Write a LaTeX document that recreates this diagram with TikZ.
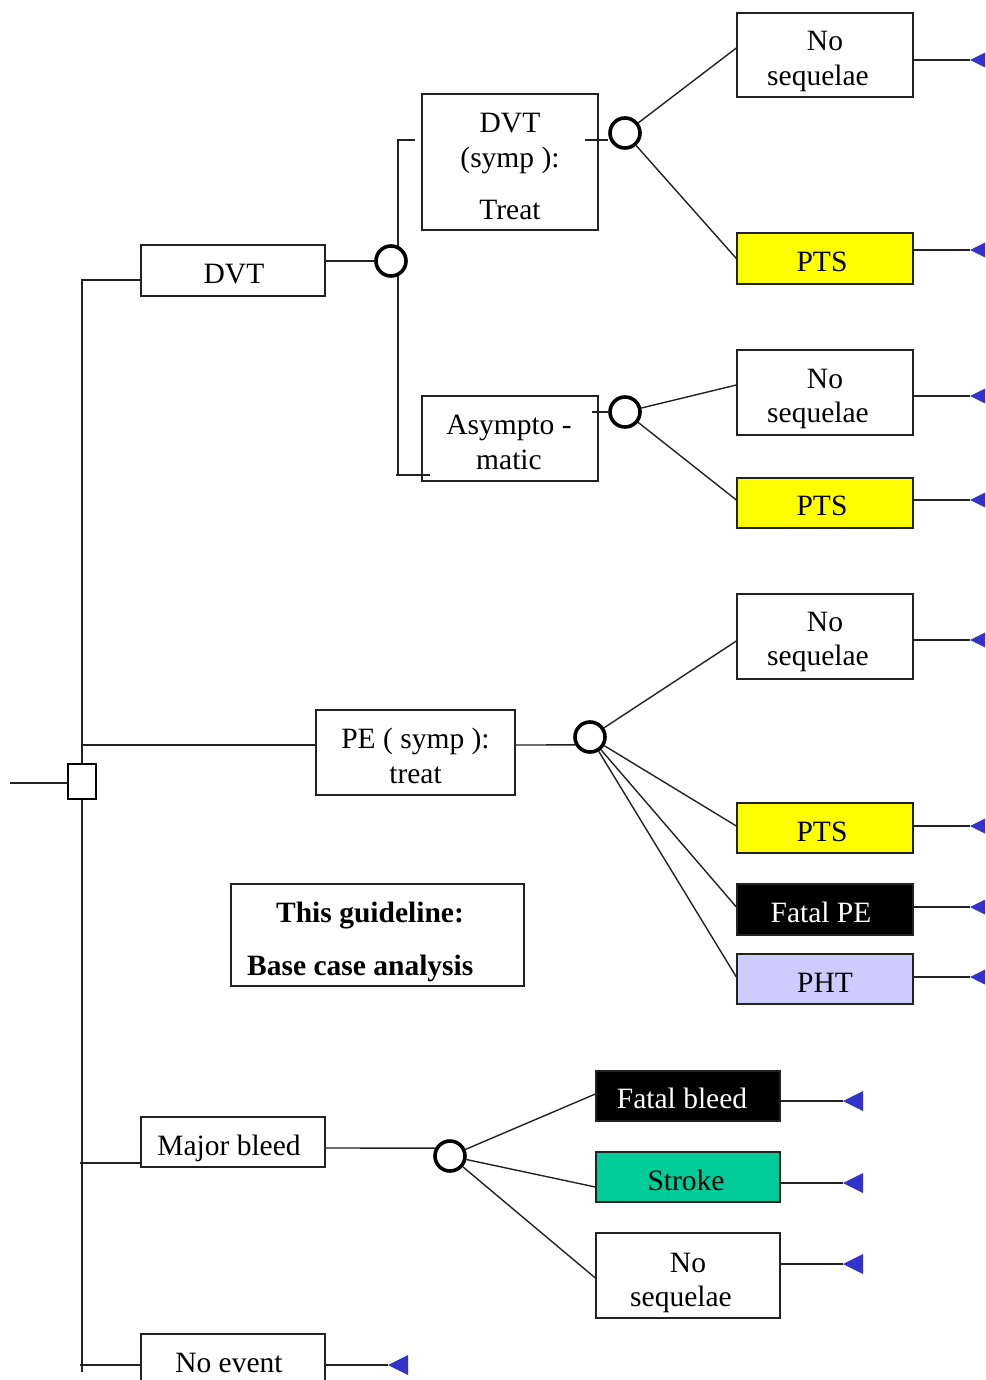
\documentclass[tikz,border=0pt]{standalone}
\usepackage{fontspec}
\setmainfont{Liberation Serif}
\usetikzlibrary{calc}
\definecolor{ptsyellow}{HTML}{FFFF00}
\definecolor{phtblue}{HTML}{CCCCFF}
\definecolor{strokegreen}{HTML}{00CC99}
\definecolor{termblue}{HTML}{3333CC}
\definecolor{linegray}{HTML}{222222}
\tikzset{
  txt/.style={font=\fontsize{29.5}{34.5}\selectfont, inner sep=0pt},
  box/.style={txt, draw=linegray, line width=1.3pt, minimum width=176pt},
  chance/.style={circle, draw=black, line width=3.6pt, fill=white, minimum size=30pt, inner sep=0pt},
  decision/.style={rectangle, draw=black, line width=2.5pt, fill=white, minimum width=28pt, minimum height=35pt, inner sep=0pt},
  conn/.style={line width=1.4pt, draw=linegray},
}
% box label: centred lines, moved right by #1 and down by #2
\newcommand\tx[3]{\hspace*{#1}\raisebox{-#2}[\height][\depth]{\begin{tabular}{@{}c@{}}#3\end{tabular}}\hspace*{-#1}}
% terminal marker: a filled triangle whose tip sits on the given point
\newcommand\termtip[1]{\fill[termblue] (#1) -- ++(20,-10) -- ++(0,20) -- cycle;}
\begin{document}
\begin{tikzpicture}[x=1pt,y=-1pt]
\useasboundingbox (0,0) rectangle (985,1380);
\clip (0,0) rectangle (985,1380);

% ---- tree junctions and terminal points
\coordinate (in)  at (10,783);
\coordinate (jd)  at (82,280);
\coordinate (jp)  at (82,745);
\coordinate (jm)  at (80,1163);
\coordinate (jn)  at (80,1365);
\coordinate (jb)  at (82,1372);
\coordinate (va)  at (398,140);
\coordinate (vb)  at (398,475);
\coordinate (ta)  at (415,140);
\coordinate (tb)  at (430,475);
\coordinate (vb0) at (396,475);
\coordinate (t1)  at (970,60);
\coordinate (t2)  at (970,250);
\coordinate (t3)  at (970,396);
\coordinate (t4)  at (970,500);
\coordinate (t5)  at (970,640);
\coordinate (t6)  at (970,826);
\coordinate (t7)  at (970,907);
\coordinate (t8)  at (970,977);
\coordinate (t9)  at (843,1101);
\coordinate (t10) at (843,1183);
\coordinate (t11) at (843,1264);
\coordinate (t12) at (388,1365);

% ---- boxes
\node[box, minimum width=184pt, minimum height=51pt] (dvt) at (233,270.5) {\tx{1pt}{6pt}{DVT}};
\node[box, minimum height=136pt] (dvts) at (510,162) {\tx{0pt}{7.5pt}{DVT\\(symp ):\\[18pt]Treat}};
\node[box, minimum height=85pt] (asym) at (510,438.5) {\tx{-1pt}{6.5pt}{Asympto -\\matic}};
\node[box, minimum height=84pt] (ns1) at (825,55) {\tx{0pt}{6pt}{No\\sequelae\hspace*{14pt}}};
\node[box, minimum height=51pt, fill=ptsyellow] (pts1) at (825,258.5) {\tx{-3pt}{6pt}{PTS}};
\node[box, minimum height=85pt] (ns2) at (825,392.5) {\tx{0pt}{6pt}{No\\sequelae\hspace*{14pt}}};
\node[box, minimum height=50pt, fill=ptsyellow] (pts2) at (825,503) {\tx{-3pt}{6pt}{PTS}};
\node[box, minimum height=85pt] (ns3) at (825,636.5) {\tx{0pt}{5pt}{No\\sequelae\hspace*{14pt}}};
\node[box, minimum width=199pt, minimum height=85pt] (pe) at (415.5,752.5) {\tx{0pt}{6.5pt}{PE ( symp ):\\treat}};
\node[box, minimum height=50pt, fill=ptsyellow] (pts3) at (825,828) {\tx{-3pt}{7pt}{PTS}};
\node[box, minimum height=51pt, fill=black, text=white] (fpe) at (825,909.5) {\tx{-4pt}{6pt}{Fatal PE}};
\node[box, minimum height=50pt, fill=phtblue] (pht) at (825,979) {\tx{0pt}{7pt}{PHT}};
\node[box, minimum width=293pt, minimum height=102pt] (guide) at (377.5,935) {};
\node[txt, font=\fontsize{29.5}{34.5}\selectfont\bfseries] (g1) at (370,916) {This guideline:};
\node[txt, font=\fontsize{29.5}{34.5}\selectfont\bfseries, anchor=west] (g2) at (247,968) {Base case analysis};
\node[box, minimum width=184pt, minimum height=50pt] (mb) at (233,1142) {\tx{-4pt}{7pt}{Major bleed}};
\node[box, minimum width=184pt, minimum height=50pt, fill=black, text=white] (fb) at (688,1096) {\tx{-6pt}{6pt}{Fatal bleed}};
\node[box, minimum width=184pt, minimum height=50pt, fill=strokegreen] (stroke) at (688,1177) {\tx{-2pt}{7pt}{Stroke}};
\node[box, minimum width=184pt, minimum height=85pt] (ns4) at (688,1275.5) {\tx{0pt}{7pt}{No\\sequelae\hspace*{14pt}}};
\node[box, minimum width=184pt, minimum height=72pt] (ne) at (233,1370) {\tx{-4pt}{-4pt}{No event}};

% ---- lines drawn beneath the chance nodes
\draw[conn] (ta) -- (va) -- (vb) -- (tb);
\draw[conn] (vb0) -- (vb);

% ---- decision and chance nodes
\node[decision] (d0) at (82,781.5) {};
\node[chance] (c1) at (391,261) {};
\node[chance] (c2) at (625,133) {};
\node[chance] (c3) at (625,412) {};
\node[chance] (c4) at (590,737) {};
\node[chance] (c5) at (450,1156) {};

% ---- trunk from the root decision
\draw[conn] (in) -- (d0.west |- in);
\draw[conn] (d0.north) -- (jd) -- (jd -| dvt.west);
\draw[conn] (d0.south) -- (jb);
\draw[conn] (jp) -- (jp -| pe.west);
\draw[conn] (jm) -- (jm -| mb.west);
\draw[conn] (jn) -- (jn -| ne.west);

% ---- DVT branch
\draw[conn] (c1 -| dvt.east) -- (c1);
\draw[conn] (585,140) -- (c2.west |- 0,140);
\draw[conn] (c2) -- ($(ns1.west)+(0,-7)$);
\draw[conn] (c2) -- (pts1.west);
\draw[conn] (592,412) -- (c3.west);
\draw[conn] (c3) -- ($(ns2.west)+(0,-7.5)$);
\draw[conn] (c3) -- ($(pts2.west)+(0,-3)$);

% ---- PE branch
\draw[conn] ($(pe.east)+(0,-7.5)$) -- (c4.208);
\draw[conn] (c4) -- ($(ns3.west)+(0,4.5)$);
\draw[conn] (c4) -- ($(pts3.west)+(0,-2)$);
\draw[conn] (c4) -- ($(fpe.west)+(0,-2.5)$);
\draw[conn] (c4) -- ($(pht.west)+(0,-2)$);

% ---- bleed branch
\draw[conn] ($(mb.east)+(0,6)$) -- (c5.152);
\draw[conn] (c5) -- ($(fb.west)+(0,-2)$);
\draw[conn] (c5) -- ($(stroke.west)+(0,10)$);
\draw[conn] (c5) -- ($(ns4.west)+(0,2.5)$);

% ---- terminal lines
\draw[conn] (ns1.east |- t1) -- (t1);
\draw[conn] (pts1.east |- t2) -- (t2);
\draw[conn] (ns2.east |- t3) -- (t3);
\draw[conn] (pts2.east |- t4) -- (t4);
\draw[conn] (ns3.east |- t5) -- (t5);
\draw[conn] (pts3.east |- t6) -- (t6);
\draw[conn] (fpe.east |- t7) -- (t7);
\draw[conn] (pht.east |- t8) -- (t8);
\draw[conn] (fb.east |- t9) -- (t9);
\draw[conn] (stroke.east |- t10) -- (t10);
\draw[conn] (ns4.east |- t11) -- (t11);
\draw[conn] (ne.east |- t12) -- (t12);
\termtip{t1}\termtip{t2}\termtip{t3}\termtip{t4}
\termtip{t5}\termtip{t6}\termtip{t7}\termtip{t8}
\termtip{t9}\termtip{t10}\termtip{t11}\termtip{t12}
\end{tikzpicture}
\end{document}
